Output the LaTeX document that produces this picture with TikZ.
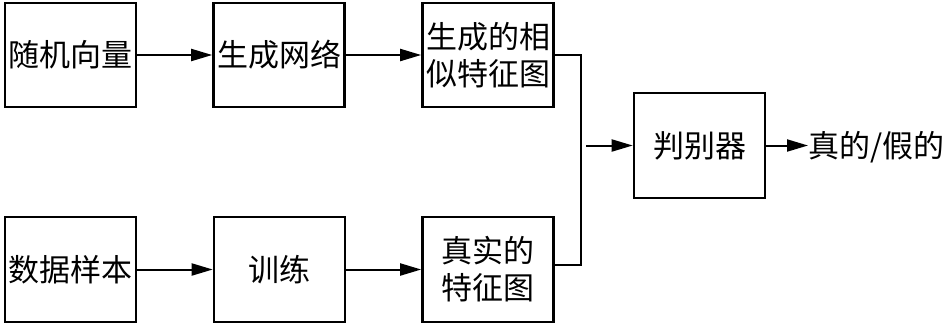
\documentclass[tikz,border=0pt]{standalone}
\usepackage{fontspec}
\newfontfamily\cjk{Noto Sans CJK SC}
\usetikzlibrary{arrows.meta}
\begin{document}
\begin{tikzpicture}[x=1pt,y=-1pt,
  box/.style={draw,line width=2.6pt,minimum width=131pt,minimum height=104pt,inner sep=0pt,align=center,font=\cjk\fontsize{31}{37}\selectfont},
  conn/.style={line width=2pt},
  arr/.style={conn,-{Triangle[length=21pt,width=12pt]}},
  txt/.style={inner sep=0pt,font=\cjk\fontsize{31}{37}\selectfont}]
\useasboundingbox (0,0) rectangle (945,325);
\node[box] (b1) at (70.5,55) {随机向量};
\node[box] (b2) at (279,55) {生成网络};
\node[box] (b3) at (488,55) {生成的相\\似特征图};
\node[box,minimum height=105pt] (b4) at (70.5,269.5) {数据样本};
\node[box,minimum height=105pt] (b5) at (279.5,269.5) {训练};
\node[box,minimum height=105pt] (b6) at (488,269.5) {真实的\\特征图};
\node[box,minimum height=105pt] (b7) at (699.5,145.5) {判别器};
\node[txt,anchor=west] (out) at (808,147) {真的/假的};
\coordinate (j1) at (580.5,55);
\coordinate (j2) at (580.5,265);
\coordinate (j3) at (586,145.5);
\draw[arr] (b1) -- (b2);
\draw[arr] (b2) -- (b3);
\draw[arr] (b4) -- (b5);
\draw[arr] (b5) -- (b6);
\draw[conn] (b3.east) -- (j1) -- (j2) -- (b6.east |- j2);
\draw[arr] (j3) -- (b7.west);
\draw[arr] (b7.east) -- (b7.east -| out.west);
\end{tikzpicture}
\end{document}
